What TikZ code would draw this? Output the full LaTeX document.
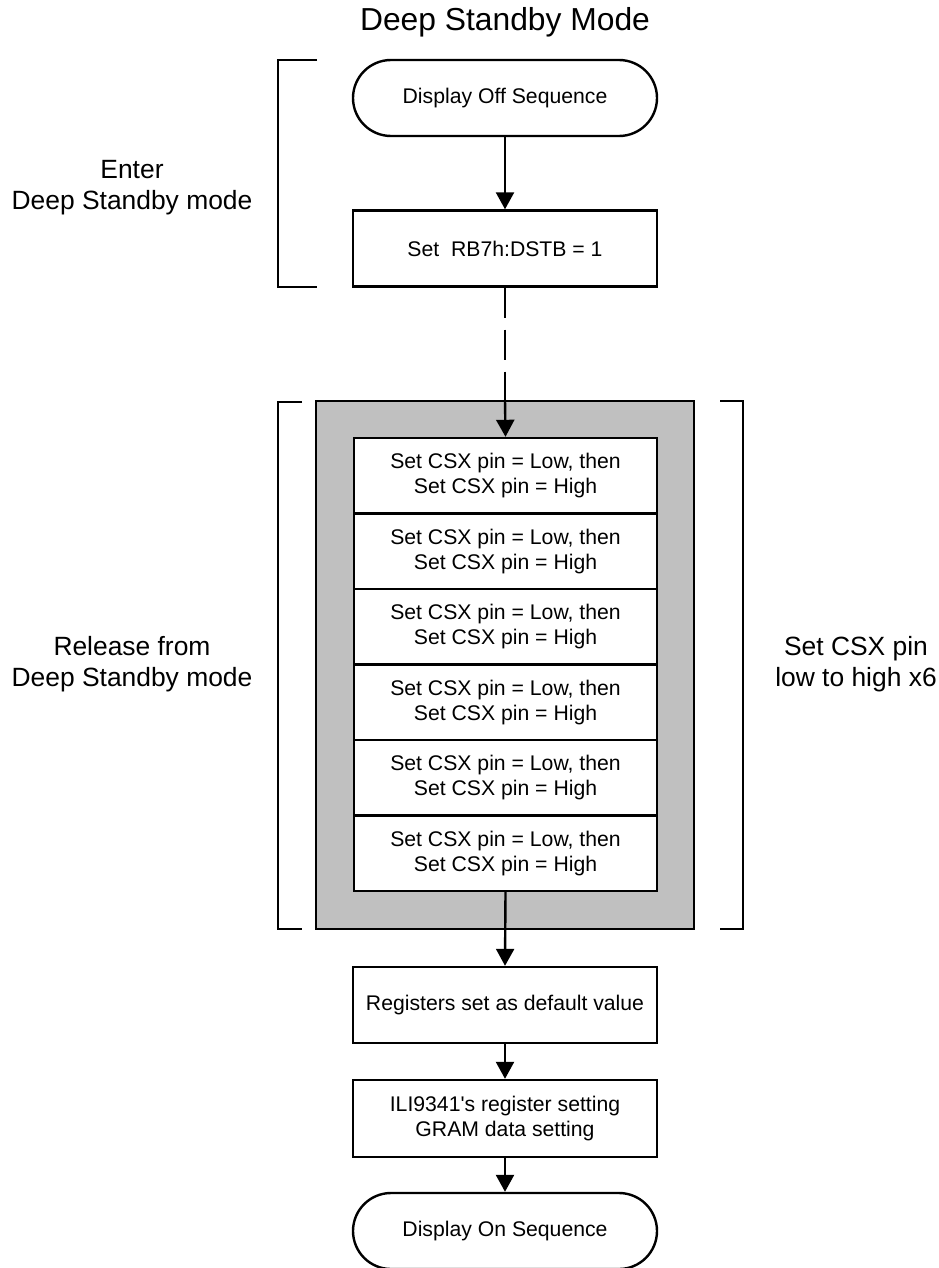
\documentclass[tikz,border=0pt]{standalone}
\usepackage{fontspec}
\setmainfont{Liberation Sans}
\usetikzlibrary{arrows.meta, calc}

\definecolor{loopgray}{RGB}{192,192,192}

\begin{document}
\begin{tikzpicture}[x=0.5pt, y=-0.5pt,
                    term/.style={draw, very thick, rounded corners=19pt, minimum width=152pt, minimum height=38pt, inner sep=0pt, font=\fontsize{10.6}{12.5}\selectfont},
                    proc/.style={draw, very thick, fill=white, minimum width=152pt, minimum height=38pt, inner sep=0pt, align=center, font=\fontsize{10.6}{12.5}\selectfont},
                    side/.style={align=center, font=\fontsize{13.2}{15.5}\selectfont},
                    flow/.style={-{Triangle[length=8.5pt, width=9pt]}, very thick},
                    brk/.style={line width=0.7pt}]

            \useasboundingbox (0,0) rectangle (938,1268);

            \node[font=\fontsize{15.9}{18}\selectfont] (title) at (505,22) {Deep Standby Mode};

            \node[term] (off) at (505,98) {Display Off Sequence};
            \node[proc] (dstb) at (505,248.5) {Set\ \ RB7h:DSTB = 1};

            \node[draw, very thick, fill=loopgray, minimum width=189pt, minimum height=264pt, inner sep=0pt] (loop) at (505,665) {};

            \foreach \i in {1,...,6}
                \node[proc, minimum width=151.5pt, minimum height=37.75pt] (r\i) at (505.5,{438+75.5*(\i-0.5)}) {Set CSX pin = Low, then\\Set CSX pin = High};

            \node[proc] (reg) at (505,1005) {Registers set as default value};
            \node[proc, minimum height=38.5pt] (ili) at (505,1118.5) {ILI9341\textquotesingle s register setting\\GRAM data setting};
            \node[term] (on) at (505,1231) {Display On Sequence};

            \node[side] (enter) at (132,188) {Enter\\Deep Standby mode};
            \node[side] (release) at (132,664) {Release from\\Deep Standby mode};
            \node[side] (csx) at (856,664) {Set CSX pin\\low to high x6};

            \draw[brk] (317,60) -- (278,60) -- (278,287) -- (317,287);
            \draw[brk] (302,402) -- (278,402) -- (278,929) -- (302,929);
            \draw[brk] (720,401) -- (743,401) -- (743,929) -- (720,929);

            \draw[flow] (off) -- (dstb);
            \draw[very thick, dash pattern=on 15pt off 6pt] (dstb.south) -- (loop.north);
            \draw[flow] (loop.north) -- (r1.north);
            \draw[flow] (r6.south) -- (reg.north);
            \draw[flow] (reg) -- (ili);
            \draw[flow] (ili) -- (on);
        \end{tikzpicture}
\end{document}
